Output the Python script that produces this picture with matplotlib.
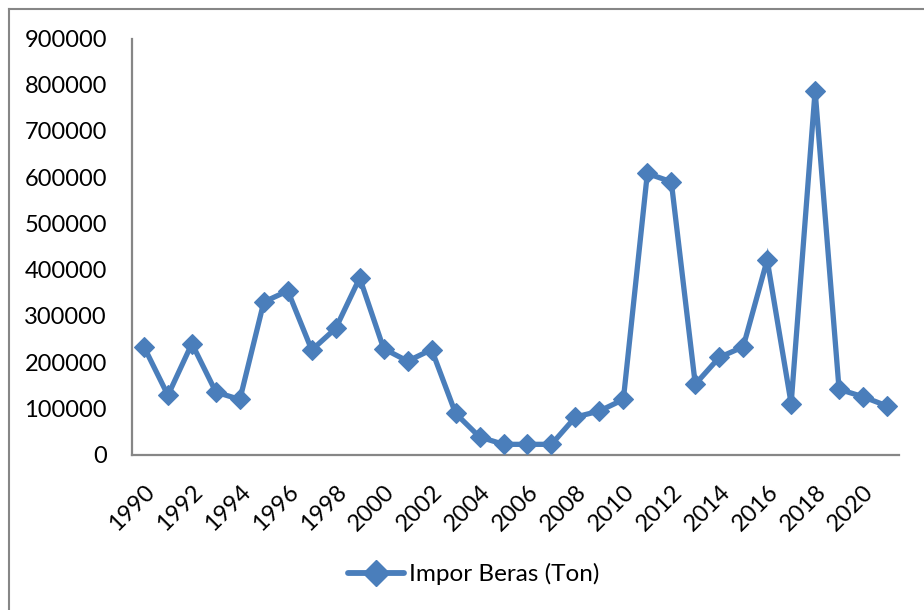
import matplotlib
matplotlib.use('Agg')
import matplotlib.pyplot as plt
from matplotlib.lines import Line2D

# --- DATA ---
years = list(range(1990, 2022))
impor_beras = [233000, 128000, 240000, 135000, 119000, 330000, 354000, 226000,
               273000, 382000, 229000, 202000, 227000, 89000, 38000, 22000,
               22000, 22000, 81000, 94000, 119000, 608000, 590000, 152000,
               210000, 233000, 421000, 110000, 787000, 141000, 125000, 105000]
y_ticks = list(range(0, 900001, 100000))
series_label = 'Impor Beras (Ton)'

# --- STYLE ---
BLUE = '#4a7ebb'
AXIS_GRAY = '#868686'
plt.rcParams['font.family'] = ['Lato', 'DejaVu Sans']

W, H = 924, 610
fig = plt.figure(figsize=(W / 100, H / 100), dpi=100)
ax = fig.add_axes([132 / W, 1 - 454.5 / H, (899 - 132) / W, (454.5 - 38.5) / H])

x = list(range(len(years)))
ax.plot(x, impor_beras, color=BLUE, linewidth=3.8, marker='D', markersize=10,
        markeredgewidth=0.8, markeredgecolor=BLUE, solid_joinstyle='miter',
        clip_on=False, zorder=3)

ax.set_xlim(-0.5, len(years) - 0.5)
ax.set_ylim(0, 900000)
ax.set_yticks(y_ticks)
ax.set_yticklabels([str(v) for v in y_ticks], fontsize=17)
ax.set_xticks(x[::2])
ax.set_xticklabels([str(y) for y in years[::2]], fontsize=17, rotation=45,
                   ha='right', va='top', rotation_mode='anchor')

ax.tick_params(axis='both', length=0)
ax.tick_params(axis='y', pad=18)
ax.tick_params(axis='x', pad=19)
for s in ['top', 'right']:
    ax.spines[s].set_visible(False)
for s in ['left', 'bottom']:
    ax.spines[s].set_color(AXIS_GRAY)
    ax.spines[s].set_linewidth(1.6)

# legend under the plot
handle = Line2D([], [], color=BLUE, linewidth=4.2, marker='D', markersize=13,
                markeredgecolor=BLUE, solid_capstyle='round')
fig.legend([handle], [series_label], loc='center left',
           bbox_to_anchor=(348 / W, 1 - 574 / H), frameon=False,
           fontsize=17.5, handlelength=2.3, handletextpad=0.2, borderpad=0,
           borderaxespad=0)

# outer chart frame (cut off at right and bottom in the original)
fig.add_artist(Line2D([8.5 / W, 8.5 / W], [0, 1 - 9 / H], color=AXIS_GRAY,
                      linewidth=1.5, transform=fig.transFigure))
fig.add_artist(Line2D([8.5 / W, 1], [1 - 9 / H, 1 - 9 / H], color=AXIS_GRAY,
                      linewidth=1.5, transform=fig.transFigure))

fig.savefig('out.png', dpi=100)
